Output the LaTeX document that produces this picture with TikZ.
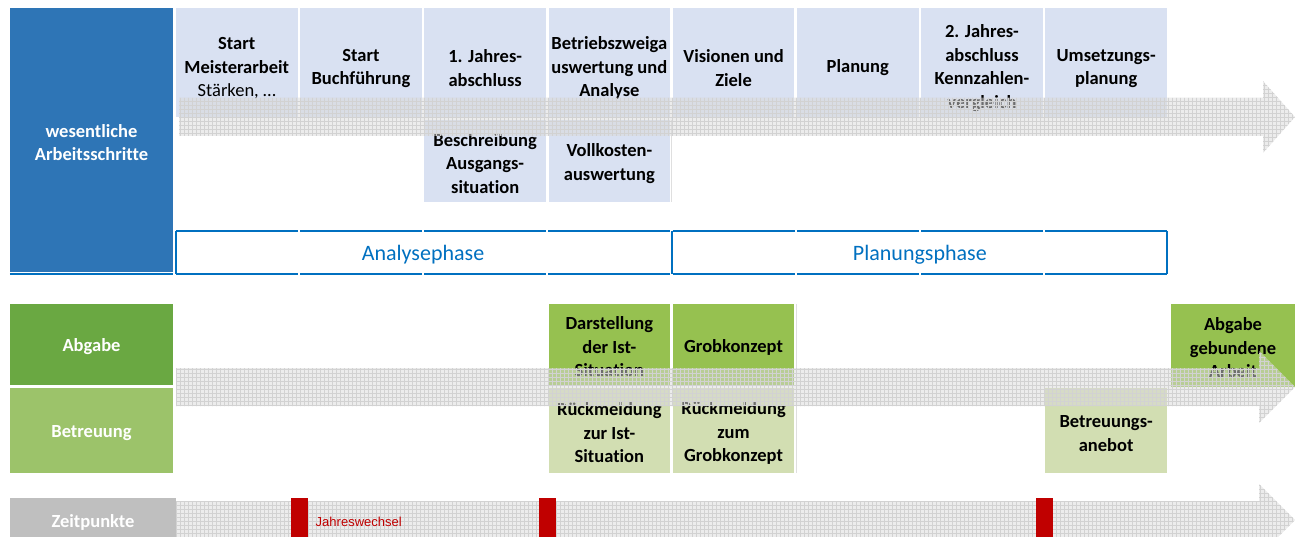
\documentclass[tikz,border=0pt]{standalone}
\usepackage{fontspec}
\setmainfont{Carlito}[Ligatures=NoCommon]
\newfontfamily\arialfont{Liberation Sans}
\usetikzlibrary{patterns}

\definecolor{blaudunkel}{HTML}{2E75B6}
\definecolor{blauhell}{HTML}{D9E1F2}
\definecolor{blauphase}{HTML}{0070C0}
\definecolor{gruendunkel}{HTML}{6AA842}
\definecolor{gruenmittel}{HTML}{9CC36A}
\definecolor{gruenbox}{HTML}{96C150}
\definecolor{gruenhell}{HTML}{D2DEB2}
\definecolor{grauzeit}{HTML}{BFBFBF}
\definecolor{grauband}{HTML}{DADADA}
\definecolor{rotmark}{HTML}{C00000}

% fine grid for the arrows
\pgfdeclarepatternformonly{gitter}{\pgfqpoint{-0.5pt}{-0.5pt}}{\pgfqpoint{4.5pt}{4.5pt}}{\pgfqpoint{4pt}{4pt}}{%
  \pgfsetlinewidth{0.4pt}
  \pgfpathmoveto{\pgfpointorigin}\pgfpathlineto{\pgfqpoint{4.1pt}{0pt}}
  \pgfpathmoveto{\pgfpointorigin}\pgfpathlineto{\pgfqpoint{0pt}{4.1pt}}
  \pgfusepath{stroke}}

% arrow: x start, y centre, x of head
\newcommand{\zeitpfeil}[3]{%
  \path[pfeil] (#1,#2+19) -- (#3,#2+19) -- (#3,#2+36) -- (1295,#2)
    -- (#3,#2-36) -- (#3,#2-19) -- (#1,#2-19) -- cycle;}
% struts to push box texts down a little
\newcommand{\hochA}{\rule{0pt}{24pt}}
\newcommand{\hochB}{\rule{0pt}{18pt}}

\begin{document}
\begin{tikzpicture}[x=1pt, y=1pt, node distance=124.2pt]
			\tikzstyle{stepbox} = [fill=blauhell, minimum width=121.5pt, minimum height=109pt, inner sep=0pt, align=center, font=\bfseries\fontsize{18.5}{23.5}\selectfont]
			\tikzstyle{unterbox} = [stepbox, minimum height=82pt]
			\tikzstyle{abgabebox} = [stepbox, fill=gruenbox, minimum height=81pt]
			\tikzstyle{betreubox} = [stepbox, fill=gruenhell, minimum height=85pt]
			\tikzstyle{zeile} = [stepbox, text=white, minimum width=163pt]
			\tikzstyle{marke} = [fill=rotmark, minimum width=17pt, minimum height=48pt, inner sep=0pt]
			\tikzstyle{phaselinie} = [draw=blauphase, line width=2pt]
			\tikzstyle{phasetext} = [text=blauphase, font=\fontsize{22}{26}\selectfont]
			\tikzstyle{pfeil} = [fill=grauband, fill opacity=0.5, postaction={pattern=gitter, pattern color=gray!35, fill opacity=0.35}]

			\useasboundingbox (0,0) rectangle (1300,-537);
			\clip (0,0) rectangle (1300,-537);

			% labels
			\node[zeile, fill=blaudunkel, minimum height=264pt] (lab1) at (91.5,-140) {\hochB wesentliche\\Arbeitsschritte};
			\node[zeile, fill=gruendunkel, minimum height=81pt] (lab2) at (91.5,-344.5) {\hochB Abgabe};
			\node[zeile, fill=gruenmittel, minimum height=85pt] (lab3) at (91.5,-430.5) {\hochB Betreuung};
			\node[zeile, fill=grauzeit, minimum width=166pt, minimum height=48pt] (lab4) at (93,-522) {Zeitpunkte};

			% arbeitsschritte
			\path
			node[stepbox] (c1) at (236.75,-62.5) {\hochA Start\\Meisterarbeit\\{\mdseries Stärken, …}}
			node[stepbox, right of=c1] (c2) {\hochA Start\\Buchführung}
			node[stepbox, right of=c2] (c3) {\hochA 1. Jahres-\\abschluss}
			node[stepbox, right of=c3] (c4) {\hochA Betriebszweiga\\uswertung und\\Analyse}
			node[stepbox, right of=c4] (c5) {\hochA Visionen und\\Ziele}
			node[stepbox, right of=c5] (c6) {\hochA Planung}
			node[stepbox, right of=c6] (c7) {\hochA 2. Jahres-\\abschluss\\Kennzahlen-\\vergleich}
			node[stepbox, right of=c7] (c8) {\hochA Umsetzungs-\\planung}
			node[unterbox, below of=c3, node distance=98.5pt] (b3) {\hochB Beschreibung\\Ausgangs-\\situation}
			node[unterbox, below of=c4, node distance=98.5pt] (b4) {\hochB Vollkosten-\\auswertung}
			;
			\draw[gray!25, line width=0.8pt] ([xshift=1.5pt]b4.north east) -- ([xshift=1.5pt]b4.south east);

			% abgabe und betreuung
			\path
			node[abgabebox] (a4) at (c4 |- lab2) {\hochB Darstellung\\der Ist-\\Situation}
			node[abgabebox, right of=a4] (a5) {\hochB Grobkonzept}
			node[abgabebox, minimum width=124pt, minimum height=83pt] (a9) at (1233,-345.5) {\hochB Abgabe\\gebundene\\Arbeit}
			node[betreubox] (r4) at (c4 |- lab3) {\hochB Rückmeldung\\zur Ist-\\Situation}
			node[betreubox, right of=r4] (r5) {\hochB Rückmeldung\\zum\\Grobkonzept}
			node[betreubox] (r8) at (c8 |- lab3) {\hochB Betreuungs-\\anebot}
			;
			\draw[gray!25, line width=0.8pt] ([xshift=2pt]a5.north east) -- ([xshift=2pt]r5.south east);

			% zeitpfeile
			\zeitpfeil{179}{-117}{1263}
			\zeitpfeil{176}{-387}{1259}
			\zeitpfeil{176}{-520}{1259}

			% jahreswechsel
			\node[marke] (m1) at (299.5,-522) {};
			\node[marke] (m2) at (547.5,-522) {};
			\node[marke] (m3) at (1044,-522) {};
			\node[anchor=west, xshift=4pt, text=rotmark, font=\arialfont\fontsize{13}{15}\selectfont] (jw) at (m1.east) {Jahreswechsel};

			% phasen
			\coordinate (ptop) at (0,-231.5);
			\coordinate (pbot) at (0,-273.5);
			\foreach \i in {1,...,8} {
				\draw[phaselinie] (c\i.west |- ptop) -- (c\i.east |- ptop);
				\draw[phaselinie] (c\i.west |- pbot) -- (c\i.east |- pbot);
			}
			\draw[phaselinie] (lab1.west |- pbot) -- (lab1.east |- pbot);
			\draw[phaselinie] (c1.west |- ptop) -- (c1.west |- pbot);
			\draw[phaselinie] ([xshift=-1pt]c5.west |- ptop) -- ([xshift=-1pt]c5.west |- pbot);
			\draw[phaselinie] (c8.east |- ptop) -- (c8.east |- pbot);
			\path (c1.west |- 0,-254.5) -- node[phasetext] (ana) {Analysephase} (c4.east |- 0,-254.5);
			\path (c5.west |- 0,-254.5) -- node[phasetext] (plan) {Planungsphase} (c8.east |- 0,-254.5);

\end{tikzpicture}
\end{document}
